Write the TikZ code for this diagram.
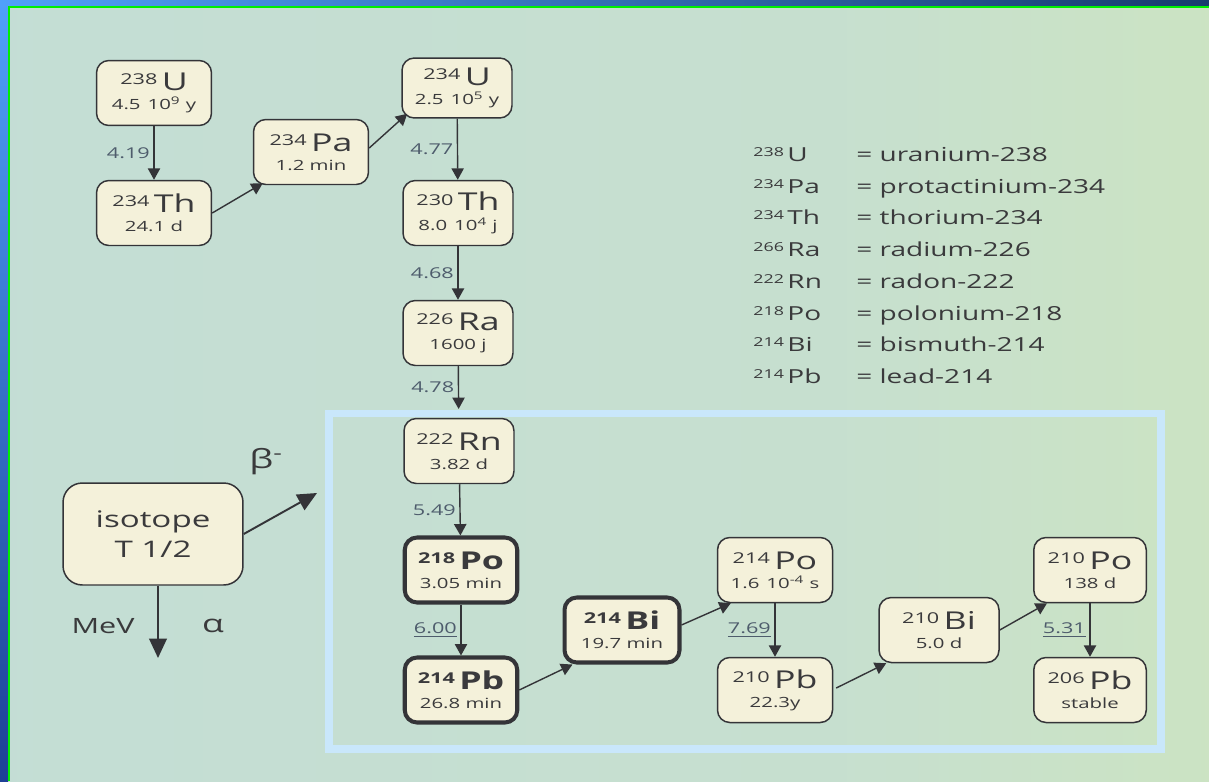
\documentclass[tikz,border=0pt]{standalone}
\usepackage{fontspec}
\setmainfont{Open Sans}[FakeStretch=1.45]
\usepackage{tikz}
\usetikzlibrary{arrows.meta,calc,positioning}
\definecolor{nodefill}{RGB}{244,241,218}
\definecolor{linecol}{RGB}{52,52,56}
\definecolor{textcol}{RGB}{58,58,60}
\definecolor{energycol}{RGB}{78,92,108}
\definecolor{hilite}{RGB}{201,231,251}
\definecolor{bgA}{RGB}{194,220,217}
\definecolor{bgB}{RGB}{212,234,176}
\definecolor{stripA}{RGB}{80,160,250}
\definecolor{stripB}{RGB}{30,64,150}
\definecolor{stripC}{RGB}{24,60,110}
\definecolor{greenline}{RGB}{0,240,0}
\pgfdeclarehorizontalshading{bgshade}{100bp}{color(0bp)=(bgA); color(60bp)=(bgA!75!bgB); color(100bp)=(bgB)}
\newcommand{\iso}[3]{\raisebox{3.4pt}{\fontsize{8.5}{9}\selectfont #1}\hspace{2.5pt}{\fontsize{14}{14}\selectfont #2}\\[-1pt]{\fontsize{8}{9}\selectfont #3}}
\newcommand{\isob}[3]{\raisebox{3.4pt}{\fontsize{8.5}{9}\selectfont\bfseries #1}\hspace{2.5pt}{\fontsize{14}{14}\selectfont\bfseries #2}\\[-1pt]{\fontsize{8}{9}\selectfont #3}}
\newcommand{\tenp}[1]{10\textsuperscript{#1}}

\begin{document}
\begin{tikzpicture}[x=0.02cm, y=-0.02cm,
    iso/.style={draw=linecol, fill=nodefill, rounded corners=7pt, line width=0.85pt,
      align=center, text=textcol, minimum width=2.3cm, minimum height=1.3cm, inner sep=2pt},
    heavy/.style={iso, line width=2.3pt},
    decay/.style={draw=linecol, line width=0.8pt, -{Triangle[length=6.5pt,width=7pt]}},
    keyarrow/.style={draw=linecol, line width=1.1pt, -{Triangle[length=11pt,width=10pt]}},
    energy/.style={left, inner sep=2pt, text=energycol, font=\fontsize{8.5}{9}\selectfont},
    legend/.style={anchor=base west, inner sep=0pt, text=textcol, font=\fontsize{11}{12}\selectfont}]
    \useasboundingbox (0,0) rectangle (1209,781);
    % background and frame
    \shade[shading=bgshade] (0,0) rectangle (1209,781);
    \shade[top color=stripA, bottom color=stripB] (0,0) rectangle (8,781);
    \shade[left color=stripA, right color=stripC] (0,0) rectangle (1209,6);
    \fill[greenline] (8,6) rectangle (10,781);
    \fill[greenline] (8,6) rectangle (1209,8);
    \draw[hilite, line width=4.5pt] (329,413.5) rectangle (1161,749);

    % uranium series
    \node[iso] (U238) at (154,93) {\iso{238}{U}{4.5\enspace\tenp{9} y}};
    \node[iso] (Th234) at (154,213) {\iso{234}{Th}{24.1 d}};
    \node[iso] (Pa234) at (311,152) {\iso{234}{Pa}{1.2 min}};
    \node[iso, minimum width=2.2cm, minimum height=1.2cm] (U234) at (457,88) {\iso{234}{U}{2.5\enspace\tenp{5} y}};
    \node[iso, minimum width=2.2cm] (Th230) at (458,213) {\iso{230}{Th}{8.0\enspace\tenp{4} j}};
    \node[iso, minimum width=2.2cm] (Ra226) at (458,333) {\iso{226}{Ra}{1600 j}};
    \node[iso, minimum width=2.2cm] (Rn222) at (459,451) {\iso{222}{Rn}{3.82 d}};
    \node[heavy, minimum width=2.25cm] (Po218) at (461,570) {\isob{218}{Po}{3.05 min}};
    \node[heavy, minimum width=2.25cm] (Pb214) at (461,690) {\isob{214}{Pb}{26.8 min}};
    \node[heavy, minimum width=2.3cm] (Bi214) at (622,630) {\isob{214}{Bi}{19.7 min}};
    \node[iso] (Po214) at (775,570) {\iso{214}{Po}{1.6\enspace\tenp{-4} s}};
    \node[iso] (Pb210) at (775,690) {\iso{210}{Pb}{22.3y}};
    \node[iso, minimum width=2.4cm] (Bi210) at (939,630) {\iso{210}{Bi}{5.0 d}};
    \node[iso, minimum width=2.25cm] (Po210) at (1090,570) {\iso{210}{Po}{138 d}};
    \node[iso, minimum width=2.25cm] (Pb206) at (1090,690) {\iso{206}{Pb}{stable}};

    \draw[decay] (U238) -- node[energy] {4.19} (Th234);
    \draw[decay] (Th234.east) -- ($(Pa234.south west)+(10,-2)$);
    \draw[decay] ($(Pa234.east)+(0,-4)$) -- ($(U234.south west)+(6,-5)$);
    \draw[decay] (U234) -- node[energy] {4.77} (Th230);
    \draw[decay] (Th230) -- node[energy] {4.68} (Ra226);
    \draw[decay, shorten >=5pt] (Ra226) -- node[energy, pos=0.4] {4.78} (Rn222);
    \draw[decay] (Rn222) -- node[energy] {5.49} (Po218);
    \draw[decay] (Po218) -- node[energy] {\underline{6.00}} (Pb214);
    \draw[decay] (Pb214.east) -- ($(Bi214.south west)+(10,0)$);
    \draw[decay] ($(Bi214.east)+(0,-5)$) -- ($(Po214.south west)+(14,0)$);
    \draw[decay] (Po214) -- node[energy] {\underline{7.69}} (Pb210);
    \draw[decay] ($(Pb210.east)+(3,-2)$) -- ($(Bi210.south west)+(8,0)$);
    \draw[decay] (Bi210.east) -- ($(Po210.south west)+(14,0)$);
    \draw[decay] (Po210) -- node[energy] {\underline{5.31}} (Pb206);

    % key
    \node[iso, minimum width=3.6cm, minimum height=2.04cm, rounded corners=11pt,
      font=\fontsize{13}{17}\selectfont] (key) at (153,534) {isotope\\T 1/2};
    \coordinate (betaend) at (317,493);
    \coordinate (alphaend) at (158,658);
    \draw[keyarrow] (key.east) -- (betaend);
    \draw[keyarrow] ($(key.south)+(5,0)$) -- (alphaend);
    \node[text=textcol, font=\fontsize{15}{16}\selectfont] (beta) at (266,462) {β\textsuperscript{-}};
    \node[text=textcol, font=\fontsize{12}{13}\selectfont] (mev) at (103,626) {MeV};
    \node[text=textcol, font=\fontsize{14}{15}\selectfont] (alpha) at (213,626) {α};

    % names
    \foreach \m/\s/\t [count=\i] in {238/U/uranium-238, 234/Pa/protactinium-234,
        234/Th/thorium-234, 266/Ra/radium-226, 222/Rn/radon-222,
        218/Po/polonium-218, 214/Bi/bismuth-214, 214/Pb/lead-214} {
      \node[legend] (sym\i) at (753,{129.8+31.7*\i}) {\raisebox{2.8pt}{\fontsize{7}{8}\selectfont\m}\hspace{2pt}\s};
      \node[legend] (name\i) at (856,{129.8+31.7*\i}) {= \t};
    }
\end{tikzpicture}
\end{document}
